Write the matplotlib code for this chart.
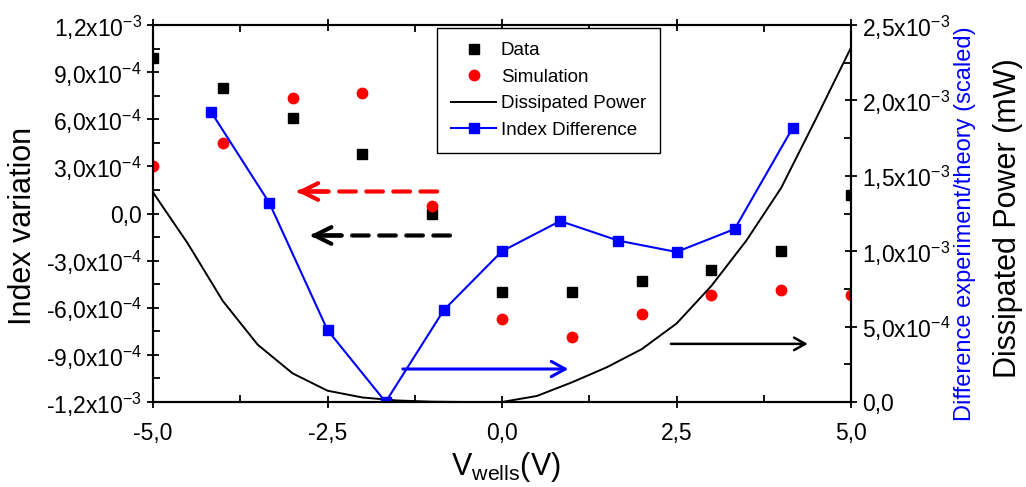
import math
import matplotlib
matplotlib.use("Agg")
import matplotlib.pyplot as plt
from matplotlib.ticker import MultipleLocator, FuncFormatter

plt.rcParams["font.family"] = ["Liberation Sans", "DejaVu Sans"]
plt.rcParams["mathtext.default"] = "regular"
plt.rcParams["mathtext.fontset"] = "custom"
plt.rcParams["mathtext.rm"] = "Liberation Sans"
plt.rcParams["axes.unicode_minus"] = False

# -------------------------
# Data
# -------------------------
v_points = [-5, -4, -3, -2, -1, 0, 1, 2, 3, 4, 5]
data_idx = [0.99e-3, 0.80e-3, 0.61e-3, 0.376e-3, 0.0, -0.50e-3, -0.50e-3,
            -0.43e-3, -0.36e-3, -0.24e-3, 0.115e-3]
sim_idx = [0.30e-3, 0.447e-3, 0.734e-3, 0.766e-3, 0.045e-3, -0.67e-3,
           -0.785e-3, -0.64e-3, -0.52e-3, -0.49e-3, -0.52e-3]

v_diff = [-4.167, -3.333, -2.5, -1.667, -0.833, 0.0, 0.833, 1.667, 2.5, 3.333, 4.167]
idx_diff = [1.923e-3, 1.32e-3, 0.477e-3, 0.0, 0.61e-3, 1.0e-3, 1.20e-3,
            1.07e-3, 0.995e-3, 1.147e-3, 1.82e-3]

v_power = [-5.0, -4.5, -4.0, -3.5, -3.0, -2.5, -2.0, -1.5, -1.0, -0.5, 0.0,
           0.5, 1.0, 1.5, 2.0, 2.5, 3.0, 3.5, 4.0, 4.5, 5.0]
power = [1.39e-3, 1.05e-3, 0.67e-3, 0.38e-3, 0.19e-3, 0.075e-3, 0.03e-3,
         0.01e-3, 0.002e-3, 0.0, 0.0, 0.04e-3, 0.13e-3, 0.23e-3, 0.35e-3,
         0.52e-3, 0.77e-3, 1.07e-3, 1.42e-3, 1.88e-3, 2.35e-3]


def sci_comma(v, pos=None):
    if abs(v) < 1e-12:
        return "0,0"
    e = int(math.floor(math.log10(abs(v)) + 1e-9))
    m = v / 10 ** e
    return ("%.1f" % m).replace(".", ",") + "x10$^{%d}$" % e


def comma1(v, pos=None):
    return ("%.1f" % v).replace(".", ",")


fig = plt.figure(figsize=(10.26, 4.87), dpi=100)
ax = fig.add_axes([153 / 1026, 1 - 402 / 487, 698 / 1026, 377 / 487])
ax2 = ax.twinx()

# left axis: index variation
ax.plot(v_points, data_idx, "s", color="black", ms=7, label="Data")
ax.plot(v_points, sim_idx, "o", color="#ff0000", ms=8.5, mec="none", label="Simulation")

# right axis: power + scaled difference
ax2.plot(v_power, power, "-", color="black", lw=1.4, label="Dissipated Power")
ax2.plot(v_diff, idx_diff, "-s", color="#0000ff", lw=1.5, ms=7, label="Index Difference")

ax.set_xlim(-5, 5)
ax.set_ylim(-1.2e-3, 1.2e-3)
ax2.set_ylim(0, 2.5e-3)

ax.xaxis.set_major_locator(MultipleLocator(2.5))
ax.xaxis.set_minor_locator(MultipleLocator(1.25))
ax.yaxis.set_major_locator(MultipleLocator(3e-4))
ax.yaxis.set_minor_locator(MultipleLocator(1.5e-4))
ax2.yaxis.set_major_locator(MultipleLocator(5e-4))
ax2.yaxis.set_minor_locator(MultipleLocator(2.5e-4))
ax.xaxis.set_major_formatter(FuncFormatter(comma1))
ax.yaxis.set_major_formatter(FuncFormatter(sci_comma))
ax2.yaxis.set_major_formatter(FuncFormatter(sci_comma))

for a in (ax, ax2):
    a.tick_params(which="major", direction="inout", length=9, width=1.3, labelsize=16.5)
    a.tick_params(which="minor", direction="in", length=5, width=1.3)
    for s in a.spines.values():
        s.set_linewidth(1.5)
ax.tick_params(axis="x", which="both", top=True)
ax.tick_params(axis="x", which="major", pad=10)

ax.set_xlabel("V$_{wells}$(V)", fontsize=22, va="center")
ax.xaxis.set_label_coords(0.505, -0.172)
ax.set_ylabel("Index variation", fontsize=22, va="center")
ax.yaxis.set_label_coords(-0.186, 0.467)
ax2.set_ylabel("Dissipated Power (mW)", fontsize=22, va="center")
ax2.yaxis.set_label_coords(1.225, 0.488)
ax2.text(1.163, 0.472, "Difference experiment/theory (scaled)", transform=ax2.transAxes,
         rotation=90, ha="center", va="center", fontsize=17, color="#0000ff")

# arrows pointing to the axis each series belongs to
ax.annotate("", xy=(-2.9, 0.14e-3), xytext=(-0.93, 0.14e-3),
            arrowprops=dict(arrowstyle="-", color="#ff0000", lw=3, ls=(0, (4, 2.5)),
                            shrinkA=0, shrinkB=0))
ax.annotate("", xy=(-2.94, 0.14e-3), xytext=(-2.5, 0.14e-3),
            arrowprops=dict(arrowstyle="->,head_length=1.2,head_width=0.6",
                            color="#ff0000", lw=3, shrinkA=0, shrinkB=0))
ax.annotate("", xy=(-2.7, -0.14e-3), xytext=(-0.745, -0.14e-3),
            arrowprops=dict(arrowstyle="-", color="black", lw=3, ls=(0, (4, 2.5)),
                            shrinkA=0, shrinkB=0))
ax.annotate("", xy=(-2.75, -0.14e-3), xytext=(-2.3, -0.14e-3),
            arrowprops=dict(arrowstyle="->,head_length=1.2,head_width=0.6",
                            color="black", lw=3, shrinkA=0, shrinkB=0))
ax.annotate("", xy=(0.95, -0.99e-3), xytext=(-1.42, -0.99e-3),
            arrowprops=dict(arrowstyle="->,head_length=1.0,head_width=0.55",
                            color="#0000ff", lw=2.2, shrinkA=0, shrinkB=0))
ax.annotate("", xy=(4.38, -0.83e-3), xytext=(2.42, -0.83e-3),
            arrowprops=dict(arrowstyle="->,head_length=0.8,head_width=0.45",
                            color="black", lw=1.8, shrinkA=0, shrinkB=0))

h1, l1 = ax.get_legend_handles_labels()
h2, l2 = ax2.get_legend_handles_labels()
leg = ax2.legend(h1 + h2, l1 + l2, loc="upper left",
                 bbox_to_anchor=(437 / 1026, 1 - 28 / 487), bbox_transform=fig.transFigure,
                 fontsize=13.5, frameon=True, fancybox=False, edgecolor="black",
                 framealpha=1, borderpad=0.75, handlelength=2.4, handletextpad=0.25,
                 labelspacing=0.5, borderaxespad=0)
leg.get_frame().set_linewidth(1.0)

fig.savefig("out.png", dpi=100)
